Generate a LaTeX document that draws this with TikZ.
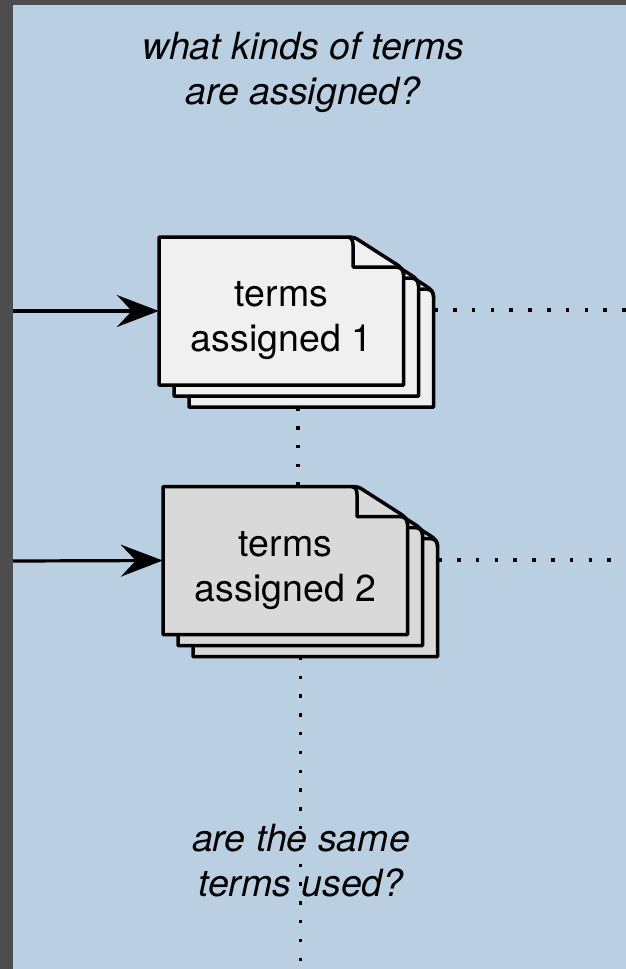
\documentclass[tikz,border=0pt]{standalone}
\usepackage{fontspec}
\setmainfont{TeX Gyre Heros}
\usetikzlibrary{arrows.meta}

\definecolor{panelblue}{HTML}{BAD0E2}
\definecolor{framegrey}{HTML}{4D4D4D}
\definecolor{docone}{HTML}{F0F0F0}
\definecolor{doctwo}{HTML}{D9D9D9}

% one sheet with a folded corner, top left at the current origin
\newcommand{\docsheet}[1]{%
    \draw[sheet, fill=#1] (0,0) -- (184,0) .. controls (191,0) and (195,0) .. (198,2)
        -- (237,27) .. controls (242,30) and (244.6,33) .. (244.6,38)
        -- (244.6,148) -- (0,148) -- cycle;
    \draw[sheet] (189,0) .. controls (193,1) and (194,4) .. (194,8)
        -- (194,30) -- (236,30) .. controls (242,30) and (244.6,33) .. (244.6,38);
}

\begin{document}
\begin{tikzpicture}[
            x=1pt,
            y=-1pt,
            >={Stealth[length=42pt,width=32pt,inset=15pt]},
            sheet/.style={draw=black, line width=3.5pt, line join=round},
            doclabel/.style={align=center, font=\fontsize{37.5}{45}\selectfont, minimum width=245pt, minimum height=148pt, inner sep=0pt},
            stackbox/.style={minimum width=245pt, minimum height=148pt, inner sep=0pt},
            question/.style={align=center, font=\fontsize{37.5}{45}\selectfont\itshape},
            inarrow/.style={->, line width=3.2pt},
            dotline/.style={line width=3.5pt, dash pattern=on 3.5pt off 15.3pt}
        ]

        % Frame and panel
        \fill[framegrey] (0,0) rectangle (626,969);
        \fill[panelblue] (13,5) rectangle (626,969);
        \useasboundingbox (0,0) rectangle (626,969);

        % Sheets
        \begin{scope}[shift={(189,259)}] \docsheet{docone} \end{scope}
        \begin{scope}[shift={(174,248)}] \docsheet{docone} \end{scope}
        \begin{scope}[shift={(159,237)}] \docsheet{docone} \end{scope}
        \begin{scope}[shift={(193,508.5)}] \docsheet{doctwo} \end{scope}
        \begin{scope}[shift={(178,497.5)}] \docsheet{doctwo} \end{scope}
        \begin{scope}[shift={(163,486.5)}] \docsheet{doctwo} \end{scope}

        % Nodes
        \node[doclabel] (doc1) at (281.5,311) {\\[0pt]terms\\assigned 1};
        \node[stackbox] (back1) at (311.5,333) {};
        \node[doclabel] (doc2) at (285.5,560.5) {\\[0pt]terms\\assigned 2};
        \node[stackbox] (back2) at (315.5,582.5) {};
        \node[question] (kinds) at (303,72) {what kinds of terms\\are assigned?};
        \coordinate (in1) at (13,311);
        \coordinate (in2) at (13,561);
        \coordinate (out1) at (626,310);
        \coordinate (out2) at (626,560);
        \coordinate (end) at (300.5,969);

        % Edges
        \draw[inarrow] (in1) -- (doc1.west);
        \draw[inarrow] (in2) -- (doc2.west);
        \draw[dotline] ([yshift=23pt]back1.east) -- (out1);
        \draw[dotline] ([yshift=22.5pt]back2.east) -- (out2);
        \draw[dotline] ([xshift=-13.5pt]back1.south) -- ([xshift=12.5pt]doc2.north);
        \draw[dotline] ([xshift=-15pt]back2.south) -- (end);

        \node[question] (same) at (301,861) {are the same\\terms used?};

\end{tikzpicture}
\end{document}
